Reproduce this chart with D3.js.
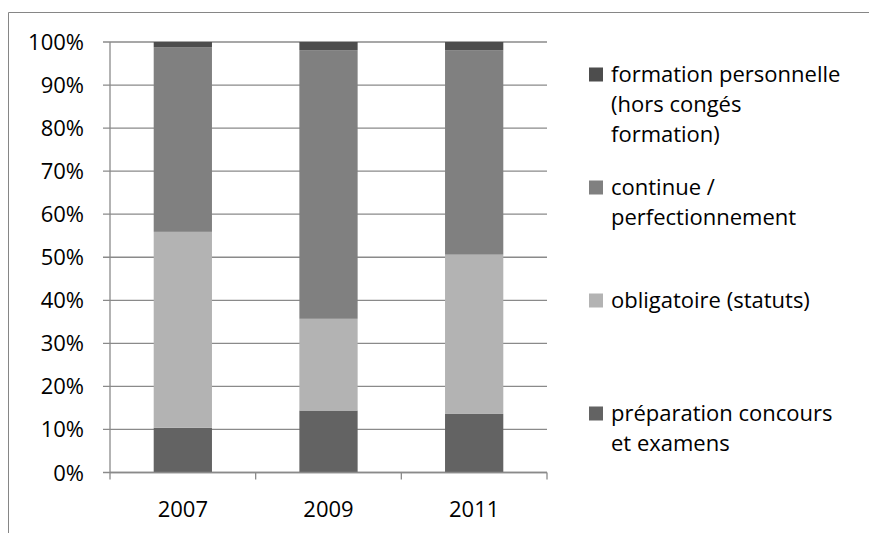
<!DOCTYPE html>
<html>
<head>
<meta charset="utf-8">
<script src="https://cdn.jsdelivr.net/npm/d3@7"></script>
<style>
html,body{margin:0;padding:0;background:#fff;}
svg{display:block;font-family:"Open Sans",Lato,sans-serif;}
</style>
</head>
<body>
<svg id="chart" width="869" height="533"></svg>
<script>
const categories = ["2007", "2009", "2011"];
const seriesNames = [
  "préparation concours et examens",
  "obligatoire (statuts)",
  "continue / perfectionnement",
  "formation personnelle (hors congés formation)"
];
const preparation = [10.4, 14.4, 13.6];
const obligatoire = [45.5, 21.3, 37.0];
const continue_ = [42.9, 62.4, 47.5];
const personnelle = [1.2, 1.9, 1.9];
const yTicks = [0, 10, 20, 30, 40, 50, 60, 70, 80, 90, 100];
const legendLines = [
  ["formation personnelle", "(hors congés", "formation)"],
  ["continue /", "perfectionnement"],
  ["obligatoire (statuts)"],
  ["préparation concours", "et examens"]
];
const colors = ["#636363", "#b3b3b3", "#808080", "#4d4d4d"];

const rows = categories.map((c, i) => ({
  cat: c,
  s0: preparation[i], s1: obligatoire[i], s2: continue_[i], s3: personnelle[i]
}));
const keys = ["s0", "s1", "s2", "s3"];
const stack = d3.stack().keys(keys)(rows);

const svg = d3.select("#chart");
const plot = {left: 110, right: 547, top: 42, bottom: 472.5};
const fs = 22;

// outer frame (top + left)
svg.append("path")
  .attr("d", `M8.5,533 V12.5 H869`)
  .attr("fill", "none").attr("stroke", "#868686").attr("stroke-width", 1);

const x = d3.scaleBand().domain(categories).range([plot.left, plot.right]).paddingInner(0.6).paddingOuter(0.3);
const y = d3.scaleLinear().domain([0, 100]).range([plot.bottom, plot.top]);

// gridlines
svg.append("g").selectAll("line").data(yTicks).join("line")
  .attr("x1", plot.left - 7).attr("x2", plot.right)
  .attr("y1", d => y(d)).attr("y2", d => y(d))
  .attr("stroke", "#8a8a8a").attr("stroke-width", 1.3);

// y axis line
svg.append("line").attr("x1", plot.left).attr("x2", plot.left)
  .attr("y1", plot.top).attr("y2", plot.bottom)
  .attr("stroke", "#8a8a8a").attr("stroke-width", 1.3);

// bars
svg.append("g").selectAll("g").data(stack).join("g")
  .attr("fill", (d, i) => colors[i])
  .selectAll("rect").data(d => d).join("rect")
  .attr("x", d => x(d.data.cat))
  .attr("width", x.bandwidth())
  .attr("y", d => y(d[1]))
  .attr("height", d => y(d[0]) - y(d[1]));

// x axis
const xTickPos = [plot.left].concat(categories.map(c => x(c) + x.bandwidth() / 2 + x.step() / 2));
svg.append("line").attr("x1", plot.left).attr("x2", plot.right)
  .attr("y1", plot.bottom).attr("y2", plot.bottom)
  .attr("stroke", "#8a8a8a").attr("stroke-width", 1.3);
svg.append("g").selectAll("line").data(xTickPos).join("line")
  .attr("x1", d => d).attr("x2", d => d)
  .attr("y1", plot.bottom).attr("y2", plot.bottom + 7)
  .attr("stroke", "#8a8a8a").attr("stroke-width", 1.3);

svg.append("g").selectAll("text").data(categories).join("text")
  .attr("x", d => x(d) + x.bandwidth() / 2)
  .attr("y", 516.5)
  .attr("text-anchor", "middle")
  .attr("font-size", fs).attr("fill", "#000")
  .text(d => d);

// y labels
svg.append("g").selectAll("text").data(yTicks).join("text")
  .attr("x", 84)
  .attr("y", d => y(d) + 8)
  .attr("text-anchor", "end")
  .attr("font-size", fs).attr("fill", "#000")
  .text(d => d + "%");

// legend
const legendColorIdx = [3, 2, 1, 0];
const legendY = [74.5, 187.5, 300.5, 413.5];
const lg = svg.append("g");
legendLines.forEach((lines, i) => {
  lg.append("rect").attr("x", 589).attr("y", legendY[i] - 7).attr("width", 14).attr("height", 14)
    .attr("fill", colors[legendColorIdx[i]]);
  lines.forEach((t, j) => {
    lg.append("text").attr("x", 611).attr("y", legendY[i] + 7.5 + j * 30)
      .attr("font-size", fs).attr("fill", "#000").text(t);
  });
});
</script>
</body>
</html>
